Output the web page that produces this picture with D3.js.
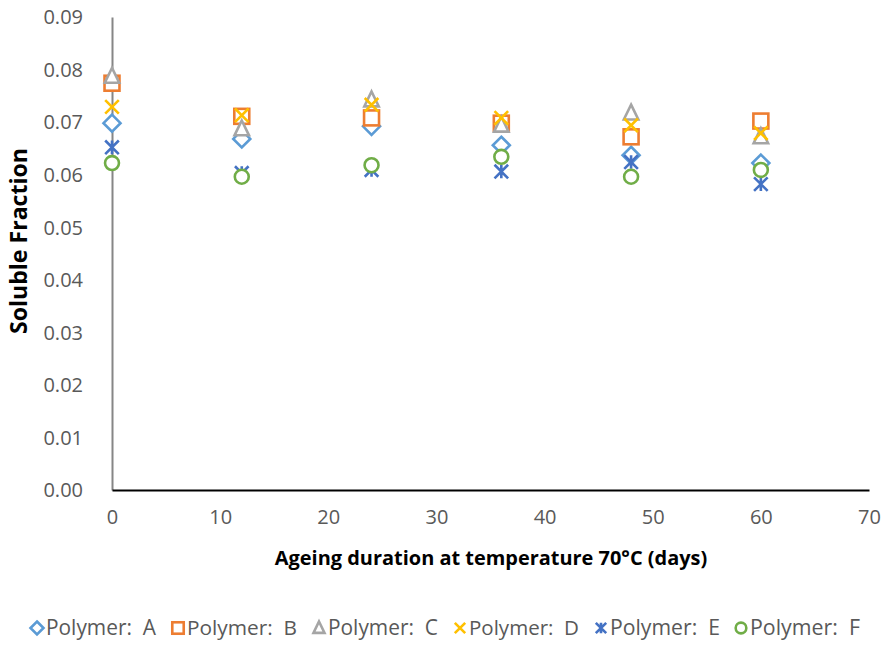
<!DOCTYPE html>
<html>
<head>
<meta charset="utf-8">
<script src="https://cdn.jsdelivr.net/npm/d3@7"></script>
<style>
  html, body { margin: 0; padding: 0; background: #fff; }
  svg { display: block; }
  text { font-family: "Open Sans", "Liberation Sans", sans-serif; }
  .legend-label { white-space: pre; }
</style>
</head>
<body>
<svg id="chart" width="889" height="646"></svg>
<script>
// Ageing days (x)
const days = [0, 12, 24, 36, 48, 60];

// Soluble fraction per polymer
const polymerA = [0.0698, 0.0668, 0.0692, 0.0656, 0.0637, 0.0622];
const polymerB = [0.0774, 0.0711, 0.0708, 0.0698, 0.0672, 0.0702];
const polymerC = [0.0787, 0.0687, 0.0742, 0.0694, 0.0717, 0.0672];
const polymerD = [0.0729, 0.0713, 0.0733, 0.0708, 0.0694, 0.0679];
const polymerE = [0.0652, 0.0603, 0.0609, 0.0606, 0.0624, 0.0582];
const polymerF = [0.0622, 0.0596, 0.0618, 0.0634, 0.0596, 0.0609];

const seriesNames = ["Polymer:  A", "Polymer:  B", "Polymer:  C", "Polymer:  D", "Polymer:  E", "Polymer:  F"];
const seriesColors = ["#5B9BD5", "#ED7D31", "#A5A5A5", "#FFC000", "#4472C4", "#70AD47"];
const seriesShapes = ["diamond", "square", "triangle", "x", "star", "circle"];
const seriesValues = [polymerA, polymerB, polymerC, polymerD, polymerE, polymerF];

const xTicks = [0, 10, 20, 30, 40, 50, 60, 70];
const yTicks = [0, 0.01, 0.02, 0.03, 0.04, 0.05, 0.06, 0.07, 0.08, 0.09];

const svg = d3.select("#chart");
const plot = { left: 112, right: 869, top: 17, bottom: 490 };

const x = d3.scaleLinear().domain([0, 70]).range([plot.left, plot.right]);
const y = d3.scaleLinear().domain([0, 0.09]).range([plot.bottom, plot.top]);

// Scale a text element's font so its rendered width meets a target width
function fitWidth(sel, target) {
  sel.each(function () {
    const base = parseFloat(this.style.fontSize);
    const w = this.getComputedTextLength();
    if (w > 0) this.style.fontSize = (base * target / w).toFixed(2) + "px";
  });
}

// Y axis (grey line, labels on left)
const yAxis = svg.append("g")
  .attr("transform", `translate(${plot.left},0)`)
  .call(d3.axisLeft(y).tickValues(yTicks).tickSize(0).tickPadding(29).tickFormat(d3.format(".2f")));
yAxis.select(".domain").attr("stroke", "#868686").attr("stroke-width", 2);
yAxis.selectAll("text").attr("fill", "#595959").style("font-size", "20px").attr("dy", "0.34em");

// X axis (black line, labels below)
const xAxis = svg.append("g")
  .attr("transform", `translate(0,${plot.bottom})`)
  .call(d3.axisBottom(x).tickValues(xTicks).tickSize(0).tickPadding(20).tickFormat(d3.format("d")));
xAxis.select(".domain").attr("stroke", "#000").attr("stroke-width", 2.2);
xAxis.selectAll("text").attr("fill", "#595959").style("font-size", "20px");

// Axis titles
const xTitle = svg.append("text")
  .attr("x", 491).attr("y", 565)
  .attr("text-anchor", "middle")
  .style("font-size", "19px").style("font-weight", "bold").attr("fill", "#000")
  .text("Ageing duration at temperature 70°C (days)");
fitWidth(xTitle, 433);

const yTitle = svg.append("text")
  .attr("transform", "translate(27,241) rotate(-90)")
  .attr("text-anchor", "middle")
  .style("font-size", "19px").style("font-weight", "bold").attr("fill", "#000")
  .text("Soluble Fraction");
fitWidth(yTitle, 186);

// Marker drawing
function drawMarker(g, shape, color, size) {
  const sw = 2.6;
  const h = size / 2;
  if (shape === "diamond") {
    g.append("path").attr("d", `M0,${-h}L${h},0L0,${h}L${-h},0Z`)
      .attr("fill", "#fff").attr("stroke", color).attr("stroke-width", sw);
  } else if (shape === "square") {
    const s = h * 0.88;
    g.append("rect").attr("x", -s).attr("y", -s).attr("width", 2 * s).attr("height", 2 * s)
      .attr("fill", "#fff").attr("stroke", color).attr("stroke-width", sw);
  } else if (shape === "triangle") {
    g.append("path").attr("d", `M0,${-h}L${h * 0.85},${h * 0.75}L${-h * 0.85},${h * 0.75}Z`)
      .attr("fill", "#fff").attr("stroke", color).attr("stroke-width", sw);
  } else if (shape === "x") {
    const s = h * 0.8;
    g.append("path").attr("d", `M${-s},${-s}L${s},${s}M${s},${-s}L${-s},${s}`)
      .attr("fill", "none").attr("stroke", color).attr("stroke-width", sw);
  } else if (shape === "star") {
    const s = h * 0.8;
    g.append("path").attr("d", `M${-s},${-s}L${s},${s}M${s},${-s}L${-s},${s}M0,${-s}L0,${s}`)
      .attr("fill", "none").attr("stroke", color).attr("stroke-width", sw);
  } else if (shape === "circle") {
    g.append("circle").attr("r", h * 0.82)
      .attr("fill", "#fff").attr("stroke", color).attr("stroke-width", sw);
  }
}

// Points
seriesValues.forEach((vals, i) => {
  const layer = svg.append("g").attr("class", "series");
  vals.forEach((v, j) => {
    const g = layer.append("g").attr("transform", `translate(${x(days[j])},${y(v)})`);
    drawMarker(g, seriesShapes[i], seriesColors[i], 17);
  });
});

// Legend
const legendX = [37, 178, 319, 460, 601, 741];
seriesNames.forEach((name, i) => {
  const g = svg.append("g").attr("transform", `translate(${legendX[i]},628)`);
  drawMarker(g.append("g"), seriesShapes[i], seriesColors[i], 13);
  const t = g.append("text").attr("class", "legend-label")
    .attr("x", 9).attr("y", 7)
    .style("font-size", "19px").attr("fill", "#595959")
    .text(name);
  fitWidth(t, 110);
});
</script>
</body>
</html>
